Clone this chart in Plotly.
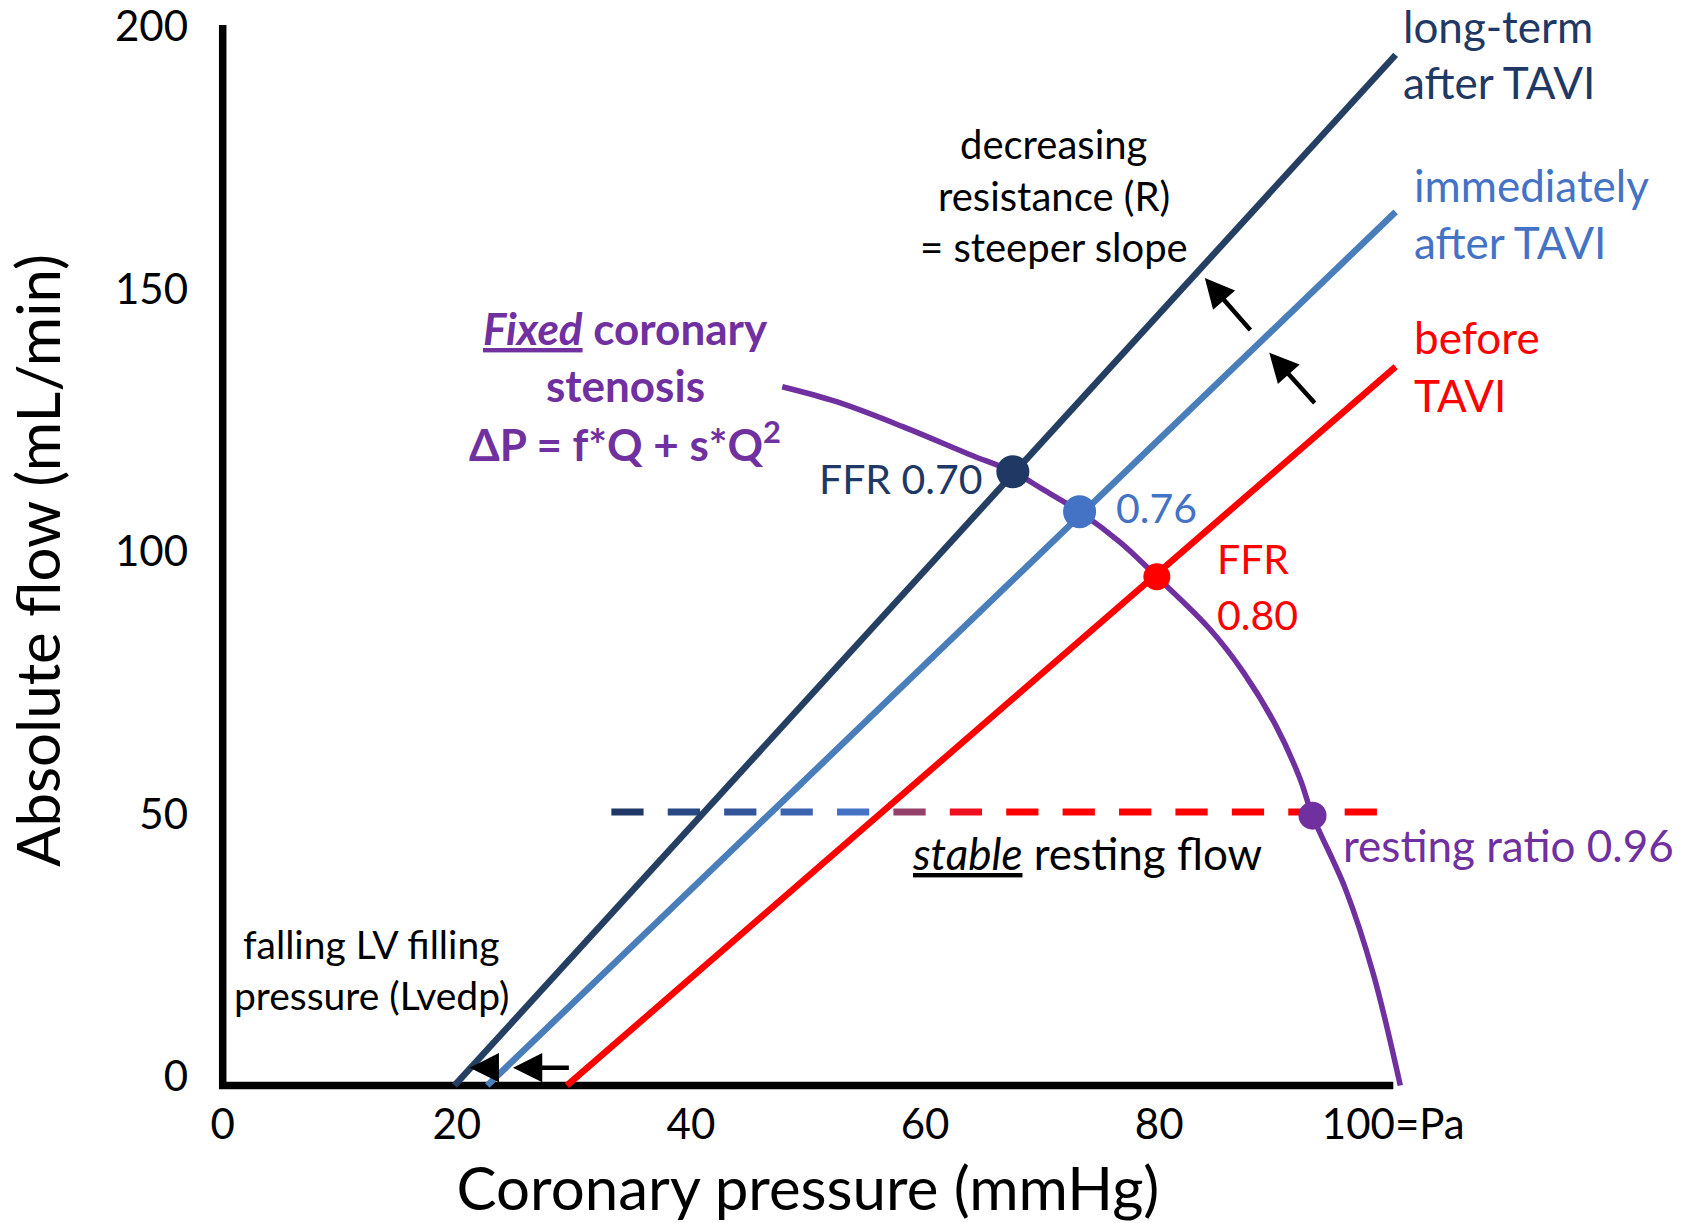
import plotly.graph_objects as go

# ---------------- data ----------------
pressure_ticks = [0, 20, 40, 60, 80, 100]
pressure_ticktext = ["0", "20", "40", "60", "80", "100=Pa"]
flow_ticks = [0, 50, 100, 150, 200]

scenario_names = ["long-term after TAVI", "immediately after TAVI", "before TAVI"]
line_start_p = [19.8, 22.6, 29.4]
line_start_q = [0, 0, 0]
line_end_p = [100.2, 100.2, 100.2]
line_end_q = [196.3, 166.4, 136.9]
line_colors = ["#253F63", "#4A7EBB", "#FF0000"]

ffr_p = [67.5, 73.2, 79.8]
ffr_q = [116.9, 109.3, 96.9]
ffr_colors = ["#1F3864", "#4472C4", "#FF0000"]
ffr_sizes = [33, 33, 27]

stenosis_p = [47.8, 52.5, 58.1, 63.8, 67.5, 70.1, 73.2, 76.7, 79.8, 84.3, 87.2,
              90.0, 92.0, 93.1, 95.9, 98.3, 100.6]
stenosis_q = [133.1, 130.2, 125.5, 120.2, 116.9, 113.5, 109.3, 103.4, 96.9, 87.0,
              78.7, 68.4, 58.6, 51.4, 37.5, 21.2, 0]

rest_p = [93.1]
rest_q = [51.4]

resting_flow = 52.1
resting_p_start = 33.2
resting_p_end = 98.6
dash_colors = ["#1F3864", "#294782", "#32559A", "#3B63B0", "#4472C4", "#94406A",
               "#EE101E", "#FF0000", "#FF0000", "#FF0000", "#FF0000", "#FF0000",
               "#FF0000", "#FF0000"]

FONT = "Lato"
NAVY = "#1F3864"
BLUE = "#4472C4"
RED = "#FF0000"
PURPLE = "#7030A0"
X_RANGE = [-1, 101]
Y_RANGE = [-2, 202]

fig = go.Figure()

# dashed resting-flow line (gradient coloured dashes)
n = len(dash_colors)
unit = (resting_p_end - resting_p_start) / (n * 4 + (n - 1) * 3)
for i, c in enumerate(dash_colors):
    x0 = resting_p_start + i * 7 * unit
    fig.add_trace(go.Scatter(x=[x0, x0 + 4 * unit], y=[resting_flow, resting_flow],
                             mode="lines", line=dict(color=c, width=7),
                             hoverinfo="skip", showlegend=False))

# pressure-flow lines
for name, xs, ys, xe, ye, c in zip(scenario_names, line_start_p, line_start_q,
                                    line_end_p, line_end_q, line_colors):
    fig.add_trace(go.Scatter(x=[xs, xe], y=[ys, ye], mode="lines", name=name,
                             line=dict(color=c, width=6.5), showlegend=False))

# stenosis curve
fig.add_trace(go.Scatter(x=stenosis_p, y=stenosis_q, mode="lines",
                         line=dict(color=PURPLE, width=5.5, shape="spline", smoothing=1.0),
                         showlegend=False))

# FFR points
fig.add_trace(go.Scatter(x=ffr_p, y=ffr_q, mode="markers",
                         marker=dict(color=ffr_colors, size=ffr_sizes, opacity=1,
                                     line=dict(width=0)),
                         showlegend=False, cliponaxis=False))
fig.add_trace(go.Scatter(x=rest_p, y=rest_q, mode="markers",
                         marker=dict(color=PURPLE, size=28, opacity=1, line=dict(width=0)),
                         showlegend=False, cliponaxis=False))

# axis lines
fig.add_shape(type="path", path="M 0,202 L 0,0 L 100,0", xref="x", yref="y",
              line=dict(color="black", width=7.5), layer="below")


def to_paper_x(x):
    return (x - X_RANGE[0]) / (X_RANGE[1] - X_RANGE[0])


def to_paper_y(y):
    return (y - Y_RANGE[0]) / (Y_RANGE[1] - Y_RANGE[0])


def text_block(lines, x, y, size, color, xanchor="center", spacing=None, bold=False):
    spacing = spacing or size * 1.3
    nl = len(lines)
    for i, t in enumerate(lines):
        shift = ((nl - 1) / 2 - i) * spacing
        fig.add_annotation(x=to_paper_x(x), y=to_paper_y(y), xref="paper", yref="paper",
                           text=t, showarrow=False,
                           xanchor=xanchor, yanchor="middle", yshift=shift,
                           font=dict(family=FONT, size=size, color=color,
                                     weight="bold" if bold else "normal"))


text_block(["long-term", "after TAVI"], 100.7, 196.5, 44, NAVY, "left", 56)
text_block(["immediately", "after TAVI"], 101.6, 166.1, 44, BLUE, "left", 57)
text_block(["before", "TAVI"], 101.6, 137.0, 44, RED, "left", 58)
text_block(["decreasing", "resistance (R)", "= steeper slope"], 71.0, 169.5, 40, "black",
           "center", 51.5)
text_block(["<u><i>Fixed</i></u> coronary", "stenosis", "ΔP = f*Q + s*Q<sup>2</sup>"],
           34.4, 133.5, 44, PURPLE, "center", 56.5, bold=True)
text_block(["FFR 0.70"], 65.1, 115.6, 41, NAVY, "right")
text_block(["0.76"], 76.1, 110.1, 41, BLUE, "left")
text_block(["FFR", "0.80"], 84.8, 95.0, 41, RED, "left", 56)
text_block(["<u><i>stable</i></u> resting flow"], 73.8, 44.3, 44, "black")
text_block(["resting ratio 0.96"], 95.5, 45.9, 44, PURPLE, "left")
text_block(["falling LV filling", "pressure (Lvedp)"], 12.7, 22.1, 39, "black", "center", 51)

# arrows
arrow_tails = [(87.9, 143.6), (93.4, 129.7), (29.7, 3.4), (23.7, 3.4)]
arrow_tips = [(83.9, 153.8), (89.4, 139.6), (24.8, 3.4), (21.1, 3.4)]
for (tx, ty), (hx, hy) in zip(arrow_tails, arrow_tips):
    fig.add_annotation(x=hx, y=hy, ax=tx, ay=ty, xref="x", yref="y", axref="x", ayref="y",
                       text="", showarrow=True, arrowhead=2, arrowsize=1.3,
                       arrowwidth=4.5, arrowcolor="black")

fig.update_layout(
    width=1689, height=1223, autosize=False,
    margin=dict(l=211.3, r=284.3, t=25.1, b=126.5, autoexpand=False),
    paper_bgcolor="white", plot_bgcolor="white",
    font=dict(family=FONT, color="black"),
    xaxis=dict(range=X_RANGE, tickvals=pressure_ticks, ticktext=pressure_ticktext,
               showgrid=False, zeroline=False, showline=False, ticks="",
               automargin=False,
               tickfont=dict(family=FONT, size=42, color="black"),
               ticklabelstandoff=0,
               title=dict(text="Coronary pressure (mmHg)", standoff=22,
                          font=dict(family=FONT, size=60, color="black"))),
    yaxis=dict(range=Y_RANGE, tickvals=flow_ticks,
               showgrid=False, zeroline=False, showline=False, ticks="",
               automargin=False,
               tickfont=dict(family=FONT, size=42, color="black"),
               ticklabelstandoff=22, ticklabelshift=-9,
               title=dict(text="Absolute flow (mL/min)", standoff=34,
                          font=dict(family=FONT, size=60, color="black"))),
)

fig.write_html("out.html")
